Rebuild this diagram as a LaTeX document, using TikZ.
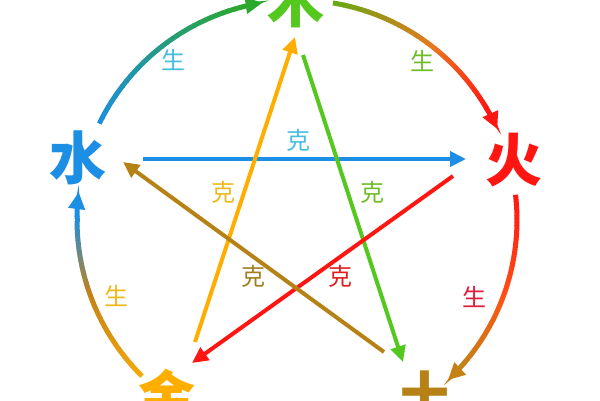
\documentclass[tikz,border=0pt]{standalone}
\usepackage{fontspec}
\setmainfont{Noto Sans CJK SC}
\usetikzlibrary{arrows.meta}
\definecolor{cblue}{RGB}{28,142,228}
\definecolor{cgreen}{RGB}{84,200,30}
\definecolor{cred}{RGB}{255,22,18}
\definecolor{corange}{RGB}{255,174,0}
\definecolor{cbrown}{RGB}{182,130,22}
\definecolor{agreen}{RGB}{44,168,44}
\definecolor{aoliv}{RGB}{100,170,20}
\definecolor{amid}{RGB}{232,120,30}
\definecolor{ared}{RGB}{255,80,20}
\definecolor{agold}{RGB}{196,130,22}
\definecolor{aorange}{RGB}{245,170,10}
\definecolor{lcyan}{RGB}{70,190,220}
\definecolor{lgreen}{RGB}{110,190,40}
\definecolor{lcrim}{RGB}{222,30,60}
\definecolor{lyellow}{RGB}{236,186,30}
\definecolor{lolive}{RGB}{160,128,30}
\definecolor{lred}{RGB}{225,30,30}
\tikzset{
  elem/.style={font=\fontsize{57}{57}\selectfont\bfseries, inner sep=0pt},
  lbl/.style={font=\fontsize{24}{24}\selectfont, inner sep=0pt},
  ke/.style={line width=4pt, -{Triangle[length=16pt,width=15pt]}},
  arrowseg/.style={line width=5pt, -{Triangle[length=17pt,width=16pt]}},
}
\newcommand\gradarc[4]{%
  \foreach \k in {1,...,30}{%
    \pgfmathsetmacro\aa{#1+(#2-#1)*(\k-1)/30}%
    \pgfmathsetmacro\ab{#1+(#2-#1)*(\k+0.15)/30}%
    \pgfmathtruncatemacro\pp{100*(\k-0.5)/30}%
    \draw[line width=5pt, color=#4!\pp!#3] (C) ++(\aa:220pt) arc[start angle=\aa, end angle=\ab, radius=220pt];
  }}
\begin{document}
\begin{tikzpicture}[x=1pt,y=1pt]
\useasboundingbox (0,0) rectangle (600,-400);
\coordinate (C) at (297,-220);
% element nodes
\node[elem, text=cgreen] (mu) at (296,-1) {木};
\node[elem, text=cred] (huo) at (514,-160) {火};
\node[elem, text=cbrown] (tu) at (425,-397) {土};
\node[elem, text=corange] (jin) at (167,-396) {金};
\node[elem, text=cblue] (shui) at (78,-158) {水};
% generating arcs
\gradarc{154}{105}{cblue}{agreen}
\draw[arrowseg, agreen] (C) ++(105.2:220pt) arc[start angle=105.2, end angle=99, radius=220pt];
\gradarc{80.6}{52}{aoliv}{amid}
\gradarc{52}{30.5}{amid}{cred}
\draw[arrowseg, cred] (C) ++(30.7:220pt) arc[start angle=30.7, end angle=24.4, radius=220pt];
\gradarc{6.6}{-20}{cred}{ared}
\gradarc{-20}{-40.5}{ared}{agold}
\draw[arrowseg, agold] (C) ++(-40.3:220pt) arc[start angle=-40.3, end angle=-46.7, radius=220pt];
\gradarc{225.2}{200}{aorange}{agold}
\gradarc{200}{179}{agold}{cblue}
\draw[arrowseg, cblue] (C) ++(179.2:220pt) arc[start angle=179.2, end angle=172.7, radius=220pt];
% star endpoints
\coordinate (b1) at (143,-159); \coordinate (b2) at (466,-159);
\coordinate (o1) at (195,-342); \coordinate (o2) at (295,-37);
\coordinate (g1) at (303,-55);  \coordinate (g2) at (403,-362);
\coordinate (r1) at (453,-176); \coordinate (r2) at (192,-363);
\coordinate (w1) at (384,-352); \coordinate (w2) at (123,-162);
\draw[ke, cblue] (b1) -- (b2);
\draw[ke, corange] (o1) -- (o2);
\draw[ke, cgreen] (g1) -- (g2);
\draw[ke, cred] (r1) -- (r2);
\draw[ke, cbrown] (w1) -- (w2);
% labels
\node[lbl, text=lcyan] (s1) at (173,-60) {生};
\node[lbl, text=lgreen] (s2) at (422,-61) {生};
\node[lbl, text=lcrim] (s3) at (474,-297) {生};
\node[lbl, text=lyellow] (s4) at (116,-296) {生};
\node[lbl, text=lcyan] (k1) at (298,-140) {克};
\node[lbl, text=lyellow] (k2) at (223,-192) {克};
\node[lbl, text=lgreen] (k3) at (372,-192) {克};
\node[lbl, text=lolive] (k4) at (253,-276) {克};
\node[lbl, text=lred] (k5) at (340,-276) {克};
\end{tikzpicture}
\end{document}
